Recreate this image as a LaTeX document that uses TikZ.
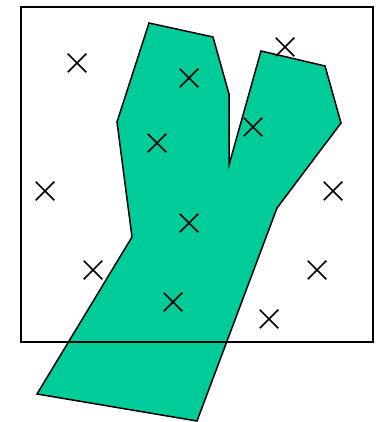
\documentclass[tikz,border=0pt]{standalone}
\usetikzlibrary{shapes.misc}
\definecolor{shapegreen}{HTML}{00CC99}
\tikzset{
  cross/.style={draw=black, line width=1.5pt, cross out, minimum size=17pt, inner sep=0pt},
  outline/.style={draw=black, line width=1.5pt, line join=miter},
}
\begin{document}
\begin{tikzpicture}[x=1pt,y=-1pt]
\useasboundingbox (0,0) rectangle (375,422);
\fill[shapegreen] (149,23) -- (213,37) -- (229,94) -- (229,165) -- (261,51) -- (325,66) -- (341,123) -- (277,208) -- (197,421) -- (37,394) -- (132,237) -- (117,122) -- cycle;
\draw[outline] (149,23) -- (213,37) -- (229,94) -- (229,165) -- (261,51) -- (325,66) -- (341,123) -- (277,208) -- (197,421) -- (37,394) -- (132,237) -- (117,122) -- cycle;
\draw[outline] (21,7) rectangle (373,342);
\foreach \n/\x/\y in {a/77/63, b/189/78, c/285/47, d/157/143, e/253/127, f/45/191, g/333/191, h/189/223, i/93/270, j/317/270, k/173/302, l/269/319}
  \node[cross] (\n) at (\x,\y) {};
\end{tikzpicture}
\end{document}
